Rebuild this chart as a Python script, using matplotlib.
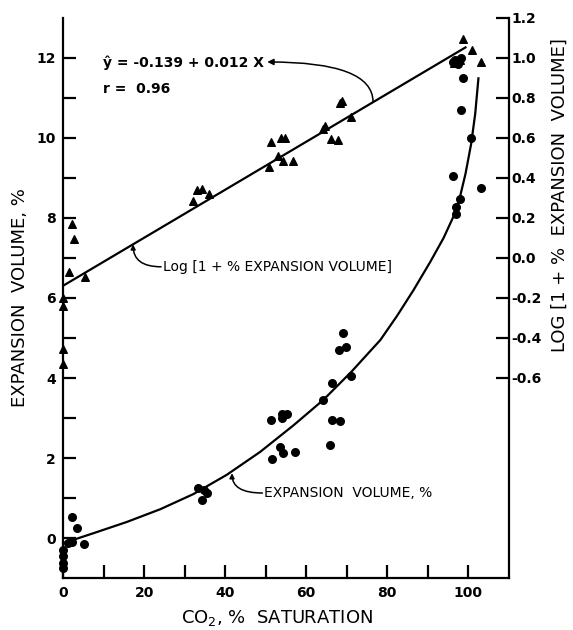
import matplotlib
matplotlib.use('Agg')
import matplotlib.pyplot as plt
from matplotlib.ticker import FixedLocator

# Triangles: log[1 + % expansion volume] (right axis)
tri_x = [0, 0, 0, 0, 1.5, 2.2, 2.7, 5.4, 32.1, 33.1, 34.3, 36.0,
         50.9, 51.2, 53.1, 53.8, 54.3, 54.8, 56.8,
         64.2, 64.7, 66.2, 67.9, 68.4, 68.9, 71.1,
         96.5, 97.3, 98.0, 98.8, 101.0, 103.2]
tri_y = [-0.2, -0.24, -0.455, -0.53, -0.07, 0.17, 0.095, -0.095, 0.285, 0.34, 0.345, 0.32,
         0.455, 0.58, 0.51, 0.60, 0.485, 0.60, 0.485,
         0.645, 0.66, 0.595, 0.59, 0.775, 0.785, 0.705,
         0.975, 0.985, 0.99, 1.095, 1.04, 0.98]

# Circles: expansion volume, % (left axis)
circ_x = [0, 0, 0, 0, 1.2, 2.2, 2.2, 3.5, 5.2, 33.3, 34.8, 35.6, 34.3,
          51.4, 54.1, 55.3, 54.1, 51.6, 53.6, 54.3, 57.3,
          64.2, 66.4, 69.1, 68.1, 69.9, 71.1, 66.4, 68.4, 65.9,
          96.3, 96.8, 97.5, 98.3, 98.8, 98.3, 100.7, 96.3, 103.2, 98.0, 97.0, 97.0]
circ_y = [-0.3, -0.45, -0.62, -0.75, -0.12, -0.1, 0.52, 0.24, -0.16, 1.25, 1.2, 1.12, 0.95,
          2.95, 3.1, 3.1, 3.0, 1.97, 2.28, 2.12, 2.15,
          3.45, 3.87, 5.12, 4.7, 4.78, 4.05, 2.95, 2.93, 2.33,
          11.9, 11.95, 11.85, 12.0, 11.5, 10.7, 10.0, 9.05, 8.75, 8.48, 8.28, 8.1]

# Fitted curve for expansion volume
curve_x = [0, 7.5, 15.7, 24.0, 32.2, 40.4, 48.6, 56.9, 64.2, 71.1, 78.3,
           82.4, 86.5, 90.6, 93.9, 96.4, 98.0, 99.3, 100.7, 101.7, 102.5]
curve_y = [-0.13, 0.12, 0.4, 0.72, 1.1, 1.58, 2.15, 2.82, 3.45, 4.15, 4.95,
           5.55, 6.2, 6.9, 7.5, 8.05, 8.55, 9.1, 9.85, 10.6, 11.49]

# Regression line on the log scale
intercept, slope = -0.139, 0.012
fit_x = [0, 99.3]
fit_y = [intercept + slope * x for x in fit_x]

xticks_major = [0, 20, 40, 60, 80, 100]
yticks_left = [0, 2, 4, 6, 8, 10, 12]
yticks_right = [-0.6, -0.4, -0.2, 0.0, 0.2, 0.4, 0.6, 0.8, 1.0, 1.2]
yticks_right_labels = ['-0.6', '-0.4', '-0.2', '0.0', '0.2', '0.4', '0.6', '0.8', '1.0', '1.2']

plt.rcParams['font.family'] = 'DejaVu Sans'

fig = plt.figure(figsize=(5.73, 6.30), dpi=100)
ax = fig.add_axes([0.110, 0.0825, 0.778, 0.889])
ax2 = ax.twinx()

ax.set_xlim(0, 110)
ax.set_ylim(-1, 13)
ax2.set_ylim(-1.6, 1.2)

# data
ax.plot(curve_x, curve_y, color='black', linewidth=1.6, clip_on=False,
        solid_joinstyle='round')
ax.scatter(circ_x, circ_y, s=30, marker='o', color='black', clip_on=False, zorder=3)
ax2.plot(fit_x, fit_y, color='black', linewidth=1.6)
ax2.scatter(tri_x, tri_y, s=30, marker='^', color='black', clip_on=False, zorder=3)

# spines
for a in (ax, ax2):
    a.spines['top'].set_visible(False)
    for s in a.spines.values():
        s.set_linewidth(1.6)
ax.spines['right'].set_visible(False)
ax2.spines['left'].set_visible(False)
ax2.spines['bottom'].set_visible(False)

# ticks
ax.xaxis.set_major_locator(FixedLocator(xticks_major))
ax.xaxis.set_minor_locator(FixedLocator(range(10, 101, 20)))
ax.yaxis.set_major_locator(FixedLocator(yticks_left))
ax.yaxis.set_minor_locator(FixedLocator(range(1, 12, 2)))
ax.tick_params(which='both', direction='in', length=9.5, width=1.6, labelsize=10,
               top=False, right=False)
ax.tick_params(axis='x', which='both', pad=6)
ax.tick_params(axis='y', which='both', pad=5)
ax2.set_yticks(yticks_right)
ax2.set_yticklabels(yticks_right_labels)
ax2.tick_params(direction='in', length=9.5, width=1.6, labelsize=10, pad=2)
for lab in ax.get_xticklabels() + ax.get_yticklabels() + ax2.get_yticklabels():
    lab.set_fontweight('bold')

# axis labels
ax.text(-0.096, 0.5, 'EXPANSION  VOLUME, %', transform=ax.transAxes, rotation=90,
        ha='center', va='center', fontsize=13)
ax.text(1.114, 0.684, 'LOG [1 + %  EXPANSION  VOLUME]', transform=ax.transAxes, rotation=90,
        ha='center', va='center', fontsize=13)
ax.text(0.48, -0.071, 'CO$_2$, %  SATURATION', transform=ax.transAxes,
        ha='center', va='center', fontsize=13)

# annotations
ax.text(9.9, 11.875, 'ŷ = -0.139 + 0.012 X', ha='left', va='center', fontsize=10, fontweight='bold')
ax.text(9.9, 11.22, 'r =  0.96', ha='left', va='center', fontsize=10, fontweight='bold')
ax.annotate('', xy=(50.4, 11.9), xytext=(76.5, 10.9),
            arrowprops=dict(arrowstyle='-|>', color='black', lw=1.1, mutation_scale=9,
                            connectionstyle='angle3,angleA=90,angleB=0', shrinkA=0, shrinkB=0))

ax.text(24.6, 6.78, 'Log [1 + % EXPANSION VOLUME]', ha='left', va='center', fontsize=10)
ax.annotate('', xy=(17.3, 7.34), xytext=(24.2, 6.78),
            arrowprops=dict(arrowstyle='-|>', color='black', lw=1.1, mutation_scale=7,
                            connectionstyle='angle3,angleA=0,angleB=90', shrinkA=0, shrinkB=0))

ax.text(49.6, 1.125, 'EXPANSION  VOLUME, %', ha='left', va='center', fontsize=10)
ax.annotate('', xy=(41.7, 1.62), xytext=(49.2, 1.125),
            arrowprops=dict(arrowstyle='-|>', color='black', lw=1.1, mutation_scale=7,
                            connectionstyle='angle3,angleA=0,angleB=90', shrinkA=0, shrinkB=0))

fig.savefig('out.png', dpi=100)
plt.close(fig)
